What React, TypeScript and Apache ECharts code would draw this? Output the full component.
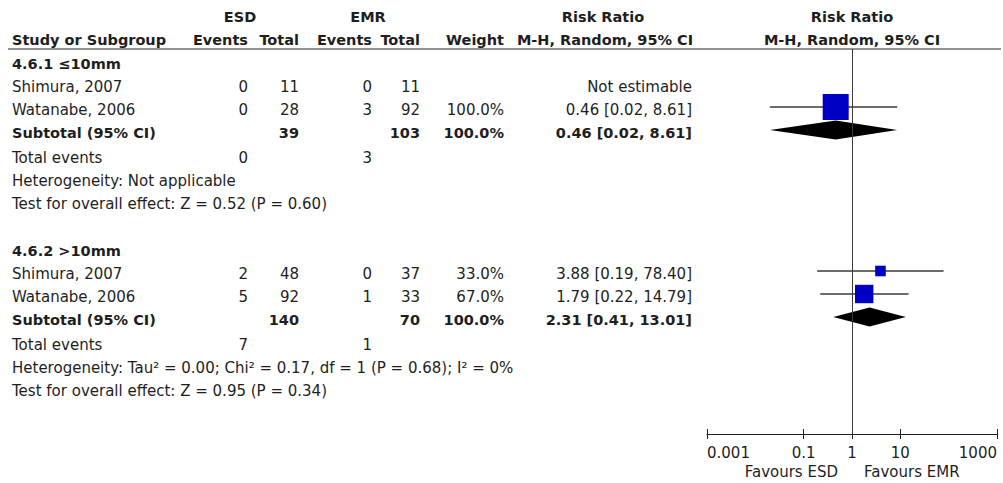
import { useEffect, useRef } from "react";
import * as echarts from "echarts";

// ---------- data ----------
const subgroupTitles = ["4.6.1 ≤10mm", "4.6.2 >10mm"];
const studyNames = [
  ["Shimura, 2007", "Watanabe, 2006"],
  ["Shimura, 2007", "Watanabe, 2006"],
];
const esdEvents = [[0, 0], [2, 5]];
const esdTotals = [[11, 28], [48, 92]];
const emrEvents = [[0, 3], [0, 1]];
const emrTotals = [[11, 92], [37, 33]];
const studyWeights: (number | null)[][] = [[null, 100.0], [33.0, 67.0]];
const riskRatios: (number | null)[][] = [[null, 0.46], [3.88, 1.79]];
const ciLower: (number | null)[][] = [[null, 0.02], [0.19, 0.22]];
const ciUpper: (number | null)[][] = [[null, 8.61], [78.4, 14.79]];

const subtotalEsd = [39, 140];
const subtotalEmr = [103, 70];
const subtotalWeight = [100.0, 100.0];
const subtotalRR = [0.46, 2.31];
const subtotalLower = [0.02, 0.41];
const subtotalUpper = [8.61, 13.01];

const totalEventsEsd = [0, 7];
const totalEventsEmr = [3, 1];
const heterogeneity = [
  "Heterogeneity: Not applicable",
  "Heterogeneity: Tau² = 0.00; Chi² = 0.17, df = 1 (P = 0.68); I² = 0%",
];
const overallEffect = [
  "Test for overall effect: Z = 0.52 (P = 0.60)",
  "Test for overall effect: Z = 0.95 (P = 0.34)",
];
const axisTickValues = [0.001, 0.1, 1, 10, 1000];
const favourLabels = ["Favours ESD", "Favours EMR"];

// ---------- layout ----------
const FONT = "DejaVu Sans";
const FS = 15;
const FS_BOLD = 14.5;
const TXT = "#1e1e1e";
const GRID_TOP = 49;
const GRID_BOTTOM_Y = 434;
const ROW_H = 23;
const MARK_SHIFT = 3;
const groupTopY = [64, 251];
const COL = {
  name: 12,
  esdEv: 248,
  esdTot: 299,
  emrEv: 372,
  emrTot: 420,
  weight: 504,
  ci: 692,
};

const fmtRR = (r: number | null, lo: number | null, hi: number | null) =>
  r == null ? "Not estimable" : `${r.toFixed(2)} [${lo!.toFixed(2)}, ${hi!.toFixed(2)}]`;
const fmtW = (w: number | null) => (w == null ? "" : `${w.toFixed(1)}%`);
const rowOf = (textY: number) => (textY - MARK_SHIFT - GRID_TOP) / ROW_H;

function txt(text: string, x: number, y: number, align = "left", bold = false) {
  return {
    type: "text",
    silent: true,
    style: {
      text,
      x,
      y,
      align,
      verticalAlign: "middle",
      fontFamily: FONT,
      fontSize: bold ? FS_BOLD : FS,
      fontWeight: bold ? "bold" : "normal",
      fill: TXT,
    },
  };
}

export default function App() {
  const ref = useRef<HTMLDivElement>(null);

  useEffect(() => {
    const chart = echarts.init(ref.current!, null, { renderer: "svg" });

    const graphics: any[] = [];
    // header
    graphics.push(txt("ESD", 240, 17, "center", true));
    graphics.push(txt("EMR", 368, 17, "center", true));
    graphics.push(txt("Risk Ratio", 603, 17, "center", true));
    graphics.push(txt("Risk Ratio", 852, 17, "center", true));
    graphics.push(txt("Study or Subgroup", COL.name, 40, "left", true));
    graphics.push(txt("Events", COL.esdEv, 40, "right", true));
    graphics.push(txt("Total", COL.esdTot, 40, "right", true));
    graphics.push(txt("Events", COL.emrEv, 40, "right", true));
    graphics.push(txt("Total", COL.emrTot, 40, "right", true));
    graphics.push(txt("Weight", COL.weight, 40, "right", true));
    graphics.push(txt("M-H, Random, 95% CI", 605, 40, "center", true));
    graphics.push(txt("M-H, Random, 95% CI", 852, 40, "center", true));
    graphics.push({
      type: "line",
      silent: true,
      shape: { x1: 8, y1: 49, x2: 1001, y2: 49 },
      style: { stroke: "#222", lineWidth: 1 },
    });

    const studySeries: any[] = [];
    const diamondSeries: any[] = [];

    subgroupTitles.forEach((title, g) => {
      const top = groupTopY[g];
      graphics.push(txt(title, COL.name, top, "left", true));
      studyNames[g].forEach((name, i) => {
        const y = top + ROW_H * (i + 1);
        graphics.push(txt(name, COL.name, y));
        graphics.push(txt(String(esdEvents[g][i]), COL.esdEv, y, "right"));
        graphics.push(txt(String(esdTotals[g][i]), COL.esdTot, y, "right"));
        graphics.push(txt(String(emrEvents[g][i]), COL.emrEv, y, "right"));
        graphics.push(txt(String(emrTotals[g][i]), COL.emrTot, y, "right"));
        graphics.push(txt(fmtW(studyWeights[g][i]), COL.weight, y, "right"));
        graphics.push(
          txt(fmtRR(riskRatios[g][i], ciLower[g][i], ciUpper[g][i]), COL.ci, y, "right")
        );
        if (riskRatios[g][i] != null) {
          studySeries.push([
            riskRatios[g][i],
            ciLower[g][i],
            ciUpper[g][i],
            rowOf(y),
            studyWeights[g][i],
          ]);
        }
      });
      const ys = top + ROW_H * 3;
      graphics.push(txt("Subtotal (95% CI)", COL.name, ys, "left", true));
      graphics.push(txt(String(subtotalEsd[g]), COL.esdTot, ys, "right", true));
      graphics.push(txt(String(subtotalEmr[g]), COL.emrTot, ys, "right", true));
      graphics.push(txt(fmtW(subtotalWeight[g]), COL.weight, ys, "right", true));
      graphics.push(
        txt(fmtRR(subtotalRR[g], subtotalLower[g], subtotalUpper[g]), COL.ci, ys, "right", true)
      );
      diamondSeries.push([subtotalRR[g], subtotalLower[g], subtotalUpper[g], rowOf(ys)]);

      const yt = top + 94;
      graphics.push(txt("Total events", COL.name, yt));
      graphics.push(txt(String(totalEventsEsd[g]), COL.esdEv, yt, "right"));
      graphics.push(txt(String(totalEventsEmr[g]), COL.emrEv, yt, "right"));
      graphics.push(txt(heterogeneity[g], COL.name, top + 117));
      graphics.push(txt(overallEffect[g], COL.name, top + 140));
    });

    graphics.push(txt(favourLabels[0], 838, 472, "right"));
    graphics.push(txt(favourLabels[1], 864, 472, "left"));

    const logAxisBase = {
      type: "log",
      logBase: 10,
      min: 0.001,
      max: 1000,
      position: "bottom",
      splitLine: { show: false },
      minorTick: { show: false },
    };

    chart.setOption({
      animation: false,
      grid: {
        left: 707,
        right: 6,
        top: GRID_TOP,
        bottom: 483 - GRID_BOTTOM_Y,
      },
      xAxis: [
        {
          ...logAxisBase,
          axisLine: { show: true, onZero: false, lineStyle: { color: "#222", width: 1 } },
          axisTick: {
            show: true,
            length: 5,
            inside: false,
            customValues: axisTickValues,
            lineStyle: { color: "#222", width: 1 },
          },
          axisLabel: {
            show: true,
            customValues: axisTickValues,
            formatter: (v: number) => String(v),
            fontFamily: FONT,
            fontSize: FS,
            color: TXT,
            margin: 11,
            alignMinLabel: "left",
            alignMaxLabel: "right",
          },
        },
        {
          ...logAxisBase,
          axisLine: { show: false, onZero: false },
          axisTick: {
            show: true,
            length: 5,
            inside: true,
            customValues: axisTickValues,
            lineStyle: { color: "#222", width: 1 },
          },
          axisLabel: { show: false },
        },
      ],
      yAxis: {
        type: "value",
        inverse: true,
        min: 0,
        max: (GRID_BOTTOM_Y - GRID_TOP) / ROW_H,
        show: false,
      },
      graphic: graphics,
      series: [
        {
          type: "scatter",
          data: [],
          silent: true,
          markLine: {
            silent: true,
            symbol: ["none", "none"],
            label: { show: false },
            lineStyle: { color: "#3a3a3a", width: 1, type: "solid" },
            data: [{ xAxis: 1 }],
          },
        },
        {
          type: "custom",
          silent: true,
          encode: { x: [0, 1, 2], y: 3 },
          data: studySeries,
          renderItem: (_p: any, api: any) => {
            const row = api.value(3);
            const pLo = api.coord([api.value(1), row]);
            const pHi = api.coord([api.value(2), row]);
            const pE = api.coord([api.value(0), row]);
            const s = 3 + 0.23 * api.value(4);
            return {
              type: "group",
              children: [
                {
                  type: "line",
                  shape: { x1: pLo[0], y1: pLo[1], x2: pHi[0], y2: pHi[1] },
                  style: { stroke: "#3a3a3a", lineWidth: 1.3 },
                },
                {
                  type: "rect",
                  shape: { x: pE[0] - s / 2, y: pE[1] - s / 2, width: s, height: s },
                  style: { fill: "#0000c4" },
                },
              ],
            };
          },
        },
        {
          type: "custom",
          silent: true,
          encode: { x: [0, 1, 2], y: 3 },
          data: diamondSeries,
          renderItem: (_p: any, api: any) => {
            const row = api.value(3);
            const pLo = api.coord([api.value(1), row]);
            const pHi = api.coord([api.value(2), row]);
            const pE = api.coord([api.value(0), row]);
            const h = 9.5;
            return {
              type: "polygon",
              shape: {
                points: [
                  [pLo[0], pLo[1]],
                  [pE[0], pE[1] - h],
                  [pHi[0], pHi[1]],
                  [pE[0], pE[1] + h],
                ],
              },
              style: { fill: "#000" },
            };
          },
        },
      ],
    });

    return () => chart.dispose();
  }, []);

  return (
    <div
      ref={ref}
      style={{ position: "absolute", left: 0, top: 0, width: 1003, height: 483, background: "#fff" }}
    />
  );
}
